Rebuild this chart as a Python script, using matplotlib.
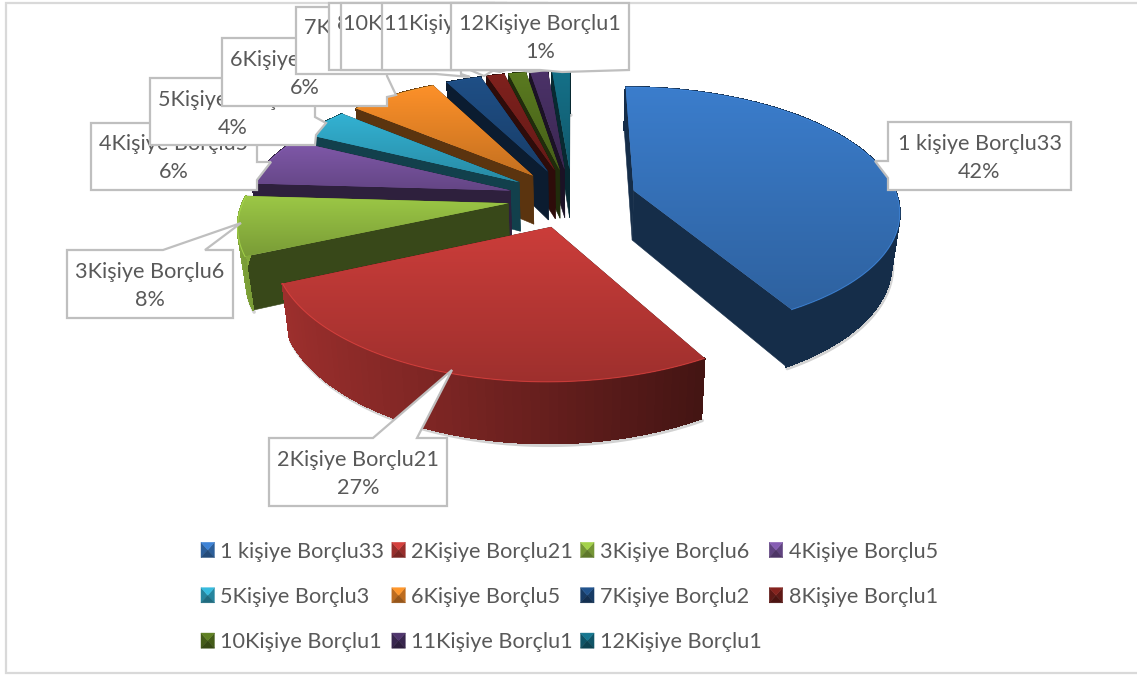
import numpy as np
import matplotlib
matplotlib.use("Agg")
import matplotlib.pyplot as plt
from matplotlib.collections import PolyCollection
from matplotlib.legend_handler import HandlerBase
from matplotlib.patches import Patch, Polygon
from matplotlib.transforms import Transform

plt.rcParams['font.family'] = ['Lato', 'DejaVu Sans']

# data
labels = ['1 kişiye Borçlu33', '2Kişiye Borçlu21', '3Kişiye Borçlu6', '4Kişiye Borçlu5',
          '5Kişiye Borçlu3', '6Kişiye Borçlu5', '7Kişiye Borçlu2', '8Kişiye Borçlu1',
          '10Kişiye Borçlu1', '11Kişiye Borçlu1', '12Kişiye Borçlu1']
values = [33, 21, 6, 5, 3, 5, 2, 1, 1, 1, 1]
colors = ['#3b7dcc', '#cb3d3a', '#9cc846', '#8059aa', '#33b2d3', '#fc9029',
          '#1f4f86', '#7f211d', '#5a7a20', '#4b3268', '#157189']

# how the flat pie is put on the page
CX, CY = 572, 198
R = 264
K = 0.4595
P = 0.152
H = 50
EXPLODE = 0.244
TEXT = '#595959'
EDGE = '#bfbfbf'
FS = 15.6


class Tilt(Transform):
    input_dims = 2
    output_dims = 2

    def transform_non_affine(self, xy):
        xy = np.asarray(xy, dtype=float)
        s = 1 / (1 + P * xy[:, 1])
        return np.column_stack([CX + R * xy[:, 0] * s, CY - R * K * xy[:, 1] * s])


def project(x, y):
    return Tilt().transform_non_affine(np.column_stack([x, y]))


def drop(top, x, y):
    # bottom of the wall under a point of the top face
    s = 1 / (1 + P * np.asarray(y))
    return np.column_stack([CX + (top[:, 0] - CX) * 0.975, top[:, 1] + H * s])


def rgb(c):
    return np.array(matplotlib.colors.to_rgb(c))


fig = plt.figure(figsize=(11.37, 6.75), dpi=100)
ax = fig.add_axes([0, 0, 1, 1])

wedges, _ = ax.pie(values, explode=[EXPLODE] * len(values), radius=1, startangle=90,
                   counterclock=False, colors=colors, wedgeprops={'linewidth': 0})
tilt = Tilt()

# far slices first, the big blue and red ones last
order = list(range(len(values) - 1, -1, -1))
for n, i in enumerate(order):
    w = wedges[i]
    base = rgb(colors[i])
    z = 10 + n * 5
    t = np.radians(np.linspace(w.theta1, w.theta2, 60))
    ox, oy = w.center
    ax_x, ax_y = ox + np.cos(t), oy + np.sin(t)
    top = project(ax_x, ax_y)
    bot = drop(top, ax_x, ax_y)
    apex = project([ox], [oy])
    apex_b = drop(apex, [ox], [oy])

    # straight walls
    wall = base * 0.36
    for end in (0, -1):
        ax.add_patch(Polygon([apex[0], top[end], bot[end], apex_b[0]], closed=True,
                             facecolor=wall, edgecolor=wall, lw=0.4, zorder=z))

    # outer wall, only the red and green ones catch the light
    quads = [[top[j], top[j + 1], bot[j + 1], bot[j]] for j in range(len(t) - 1)]
    sx = np.cos((t[:-1] + t[1:]) / 2)
    if i in (1, 2):
        shade = np.interp(sx, [-1, -0.9, -0.3, 0.5, 1], [0.85, 0.77, 0.6, 0.33, 0.33])
    else:
        shade = np.full(len(sx), 0.36)
    cols = np.clip(base[None, :] * shade[:, None], 0, 1)
    ax.add_collection(PolyCollection(quads, facecolors=cols, edgecolors=cols, linewidths=0.8,
                                     antialiaseds=False, zorder=z + 1), autolim=False)

    # soft shadow under the wall
    ax.plot(bot[:, 0] + 1, bot[:, 1] + 2, color='#808080', lw=2.5, alpha=0.35,
            solid_capstyle='round', zorder=z - 1)

    # top face with a vertical gradient
    w.set_transform(tilt + ax.transData)
    w.set_zorder(z + 2)
    pts = np.vstack([top, apex])
    grad = np.linspace(1, 0.78, 64)[:, None, None] * base[None, None, :]
    im = ax.imshow(grad, extent=(pts[:, 0].min(), pts[:, 0].max(), pts[:, 1].max(), pts[:, 1].min()),
                   aspect='auto', interpolation='bilinear', zorder=z + 3)
    im.set_clip_path(w)
    ax.plot(top[:, 0], top[:, 1], color=np.clip(base * 1.15, 0, 1), lw=0.8, alpha=0.6, zorder=z + 4)

# data labels: box (x0, x1, y0, y1) and pointer outline, drawn in series order so later ones sit on top
boxes = [(888, 1071, 122, 190), (269, 447, 438, 506), (67, 233, 250, 318), (91, 257, 123, 190),
         (150, 315, 78, 145), (222, 387, 38, 106), (296, 461, 7, 74), (329, 494, 3, 70),
         (341, 506, 3, 70), (382, 547, 3, 70), (451, 629, 3, 70)]
callouts = [
    [(888, 122), (1071, 122), (1071, 190), (888, 190), (888, 178), (875, 161), (888, 161)],
    [(269, 438), (373, 438), (452, 370), (417, 438), (447, 438), (447, 506), (269, 506)],
    [(67, 250), (163, 250), (241, 223), (205, 250), (233, 250), (233, 318), (67, 318)],
    [(91, 123), (257, 123), (257, 162), (271, 162), (257, 180), (257, 190), (91, 190)],
    [(150, 78), (315, 78), (315, 117), (326, 123), (316, 135), (315, 145), (150, 145)],
    [(222, 38), (387, 38), (387, 76), (396, 95), (387, 97), (387, 106), (222, 106)],
    [(296, 7), (461, 7), (461, 74), (470, 77), (436, 74), (296, 74)],
    [(329, 3), (494, 3), (494, 70), (484, 76), (470, 70), (329, 70)],
    [(341, 3), (506, 3), (506, 70), (500, 72), (490, 70), (341, 70)],
    [(382, 3), (547, 3), (547, 70), (530, 72), (520, 70), (382, 70)],
    [(451, 3), (629, 3), (629, 70), (562, 72), (540, 70), (451, 70)],
]
total = sum(values)
for i, pts in enumerate(callouts):
    z = 200 + i * 2
    ax.add_patch(Polygon(pts, closed=True, facecolor='white', edgecolor=EDGE, lw=1.6,
                         joinstyle='miter', zorder=z))
    x0, x1, y0, y1 = boxes[i]
    ax.text((x0 + x1) / 2, (y0 + y1) / 2 + 2, f'{labels[i]}\n{round(values[i] / total * 100)}%',
            ha='center', va='center', ma='center', fontsize=FS, color=TEXT, linespacing=1.5, zorder=z + 1)


class BevelHandler(HandlerBase):
    def create_artists(self, legend, orig, xd, yd, width, height, fontsize, trans):
        c = rgb(orig.get_facecolor()[:3])
        x0, y0 = xd * -1, yd * -1
        x1, y1 = x0 + width, y0 + height
        mx, my = (x0 + x1) / 2, (y0 + y1) / 2
        faces = [((x1, y1), (x1, y0), (mx, my), c * 0.75),
                 ((x0, y0), (x0, y1), (mx, my), c * 0.75),
                 ((x1, y0), (x0, y0), (mx, my), c * 0.6),
                 ((x0, y1), (x1, y1), (mx, my), c * 1.05)]
        out = []
        for a, b, m, col in faces:
            col = np.clip(col, 0, 1)
            out.append(Polygon([a, b, m], closed=True, facecolor=col, edgecolor=col, lw=0.3, transform=trans))
        return out


# legend is filled column by column, the reference reads row by row
n_cols = 4
n_rows = 3
seq = [r * n_cols + c for c in range(n_cols) for r in range(n_rows) if r * n_cols + c < len(labels)]
handles = [Patch(facecolor=colors[i]) for i in seq]
leg = fig.legend(handles, [labels[i] for i in seq], ncol=n_cols, frameon=False,
                 loc='upper left', bbox_to_anchor=(201 / 1137, 1 - 541.5 / 675),
                 bbox_transform=fig.transFigure, fontsize=FS, labelcolor=TEXT,
                 handler_map={Patch: BevelHandler()}, handlelength=0.62, handleheight=0.7,
                 handletextpad=0.28, labelspacing=1.17, columnspacing=0.34,
                 borderpad=0, borderaxespad=0)

# chart frame
ax.plot([1137, 6, 6, 1137], [3, 3, 673, 673], color='#d9d9d9', lw=1.6, zorder=1, solid_joinstyle='miter')

ax.set_aspect('auto')
ax.set_xlim(0, 1137)
ax.set_ylim(675, 0)
ax.axis('off')

fig.savefig('out.png', dpi=100)
